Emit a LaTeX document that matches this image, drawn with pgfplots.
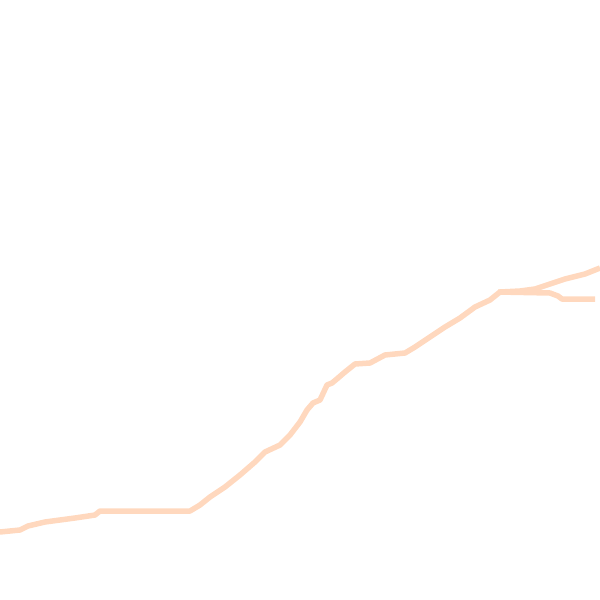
\documentclass[border=0pt]{standalone}
\usepackage{pgfplots}
\pgfplotsset{compat=1.18}
\definecolor{peach}{RGB}{255,216,190}
\begin{document}
\begin{tikzpicture}
\begin{axis}[
  width=600pt, height=600pt, scale only axis,
  xmin=0, xmax=600, ymin=0, ymax=600, y dir=reverse,
  axis line style={draw=none}, ticks=none,
]
\addplot[peach, line width=5.5pt, line join=round] coordinates {
(0,532) (20,530) (28,526) (45,522) (75,518) (95,515) (100,511) (190,511)
(200,505) (210,497) (225,487) (240,475) (255,462) (265,452) (280,445)
(290,435) (300,422) (307,410) (313,403) (320,400) (327,385) (332,383)
(338,378) (345,372) (355,364) (370,363) (385,355) (405,353) (415,347)
(430,337) (445,327) (460,318) (475,307) (490,300) (500,292) (520,291)
(535,289) (550,284) (565,279) (585,274) (600,268)
};
\addplot[peach, line width=5.5pt, line join=round] coordinates {
(498,292) (550,293) (558,296) (562,299) (595,299)
};
\end{axis}
\end{tikzpicture}
\end{document}
